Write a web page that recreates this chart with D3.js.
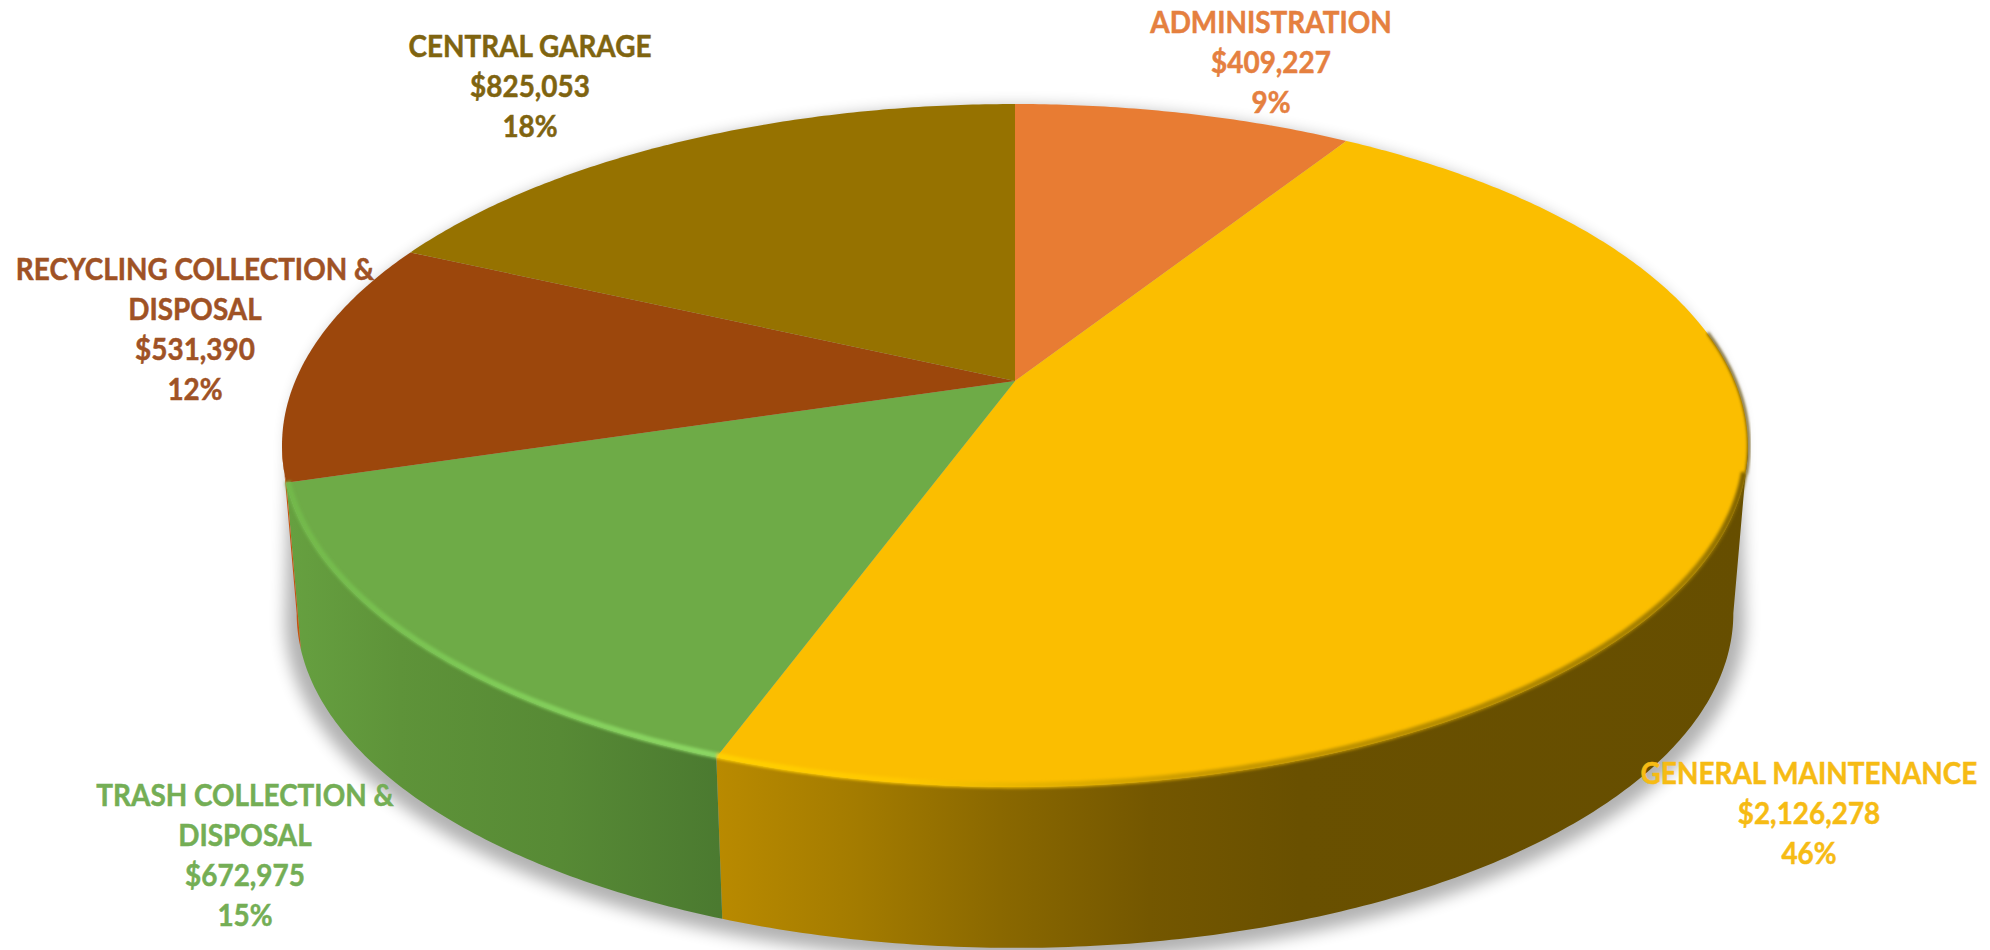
<!DOCTYPE html>
<html>
<head>
<meta charset="utf-8">
<script src="https://cdn.jsdelivr.net/npm/d3@7"></script>
<style>
  html, body { margin: 0; background: #fff; }
  svg { display: block; }
</style>
</head>
<body>
<svg id="chart" width="1990" height="950"></svg>
<script>
// chart data
const categories = ["ADMINISTRATION", "GENERAL MAINTENANCE", "TRASH COLLECTION & DISPOSAL", "RECYCLING COLLECTION & DISPOSAL", "CENTRAL GARAGE"];
const amounts = [409227, 2126278, 672975, 531390, 825053];
const percents = ["9%", "46%", "15%", "12%", "18%"];
const labelLines = [["ADMINISTRATION"], ["GENERAL MAINTENANCE"], ["TRASH COLLECTION &", "DISPOSAL"], ["RECYCLING COLLECTION &", "DISPOSAL"], ["CENTRAL GARAGE"]];
const topColors = ["#e87c33", "#fbbe00", "#6eab47", "#9c470c", "#967200"];
const textColors = ["#e5803f", "#f6bb14", "#74ae55", "#9f5225", "#7f6410"];
const labelX = [1271, 1809, 245, 195, 530];
const labelY = [33, 784, 806, 280, 57];

const svg = d3.select("#chart");
const defs = svg.append("defs");

// the disc is a circle seen in perspective, so the apex sits above the ellipse centre
const apex = { x: 1015, y: 381 };
const persp = -0.1889, scaleU = 719.8, scaleV = 329.3;
const lowerScale = 0.98, lowerApex = { x: 1015, y: 550 };
// angles where the rim is widest: the wall's silhouette runs straight down from there
const frontStart = Math.acos(persp), frontEnd = 2 * Math.PI - frontStart;

function project(theta, center, k) {
  const u = Math.sin(theta), v = -Math.cos(theta);
  const w = 1 + persp * v;
  return [center.x + k * scaleU * u / w, center.y + k * scaleV * v / w];
}

const arcs = d3.pie().sort(null).startAngle(0).endAngle(2 * Math.PI)(amounts);
const line = d3.line();

function samples(a0, a1) {
  const n = Math.max(2, Math.ceil((a1 - a0) / 0.01));
  return d3.range(n + 1).map(i => a0 + (a1 - a0) * i / n);
}

function addGradient(id, stops) {
  const g = defs.append("linearGradient").attr("id", id)
    .attr("gradientUnits", "userSpaceOnUse")
    .attr("x1", 280).attr("x2", 1750).attr("y1", 0).attr("y2", 0);
  stops.forEach(s => g.append("stop").attr("offset", (s[0] - 280) / 1470).attr("stop-color", s[1]));
}

addGradient("wall-general", [[718, "#b98a00"], [860, "#a37b00"], [1000, "#8a6800"], [1150, "#745700"], [1300, "#695000"], [1750, "#664e00"]]);
addGradient("wall-trash", [[290, "#66a040"], [400, "#5e9339"], [560, "#578a35"], [720, "#4b7a30"]]);
addGradient("wall-recycling", [[280, "#c65510"], [420, "#b34d0e"]]);
addGradient("rim-general", [[718, "#ffd000"], [900, "#ffc800"], [1200, "#c99a00"], [1700, "#a07c00"], [1750, "#7a5e00"]]);
addGradient("rim-trash", [[285, "#72b84a"], [500, "#80cc58"], [720, "#8cd864"]]);

defs.append("filter").attr("id", "soft").attr("x", "-5%").attr("y", "-5%").attr("width", "110%").attr("height", "110%")
  .append("feGaussianBlur").attr("stdDeviation", 8);
defs.append("filter").attr("id", "rim-blur").attr("x", "-5%").attr("y", "-5%").attr("width", "110%").attr("height", "110%")
  .append("feGaussianBlur").attr("stdDeviation", 1.8);

function wallPoints(a0, a1) {
  const s = samples(a0, a1);
  const upper = s.map(a => project(a, apex, 1));
  const lower = s.slice().reverse().map(a => project(a, lowerApex, lowerScale));
  return upper.concat(lower);
}

// soft shadow under the disc, following the wall's silhouette
const shadowCenter = { x: lowerApex.x, y: lowerApex.y + 7 };
const shadowRing = samples(frontStart, frontEnd).map(a => project(a, shadowCenter, lowerScale + 0.016));
const shadowBack = samples(frontEnd, frontStart + 2 * Math.PI).map(a => project(a, apex, 0.99));
svg.append("path")
  .attr("d", line(shadowRing.concat(shadowBack)) + "Z")
  .attr("fill", "#000").attr("opacity", 0.3).attr("filter", "url(#soft)");

// side walls, front part of the rim only
const wallFill = { 1: "url(#wall-general)", 2: "url(#wall-trash)", 3: "url(#wall-recycling)" };
svg.append("g").selectAll("path")
  .data(arcs.filter(d => wallFill[d.index]))
  .join("path")
  .attr("d", d => line(wallPoints(Math.max(d.startAngle, frontStart), Math.min(d.endAngle, frontEnd))) + "Z")
  .attr("fill", d => wallFill[d.index]);

// top face
svg.append("g").selectAll("path")
  .data(arcs)
  .join("path")
  .attr("d", d => line([[apex.x, apex.y]].concat(samples(d.startAngle, d.endAngle).map(a => project(a, apex, 1)))) + "Z")
  .attr("fill", d => topColors[d.index]);

// dark sliver on the far right edge of the top face
svg.append("path")
  .attr("d", line(samples(1.42, frontStart + 0.08).map(a => project(a, apex, 1.001))))
  .attr("fill", "none").attr("stroke", "#5e4800").attr("stroke-width", 2.5).attr("filter", "url(#rim-blur)");

// bevel along the front edge of the top face
const rimStroke = { 1: "url(#rim-general)", 2: "url(#rim-trash)" };
svg.append("g").attr("filter", "url(#rim-blur)").selectAll("path")
  .data(arcs.filter(d => rimStroke[d.index]))
  .join("path")
  .attr("d", d => {
    const a0 = Math.max(d.startAngle, frontStart + 0.08);
    return line(samples(a0, Math.min(d.endAngle, frontEnd)).map(a => project(a, { x: apex.x, y: apex.y - 1 }, 0.998)));
  })
  .attr("fill", "none")
  .attr("stroke", d => rimStroke[d.index])
  .attr("stroke-width", 6);

// data labels
const usd = d3.format("$,");
const labels = svg.append("g")
  .attr("font-family", "Lato, 'Liberation Sans', sans-serif")
  .attr("font-weight", "bold")
  .attr("font-size", 30)
  .attr("text-anchor", "middle");

categories.forEach((name, i) => {
  const lines = labelLines[i].concat([usd(amounts[i]), percents[i]]);
  labels.append("g")
    .attr("fill", textColors[i])
    .attr("stroke", textColors[i])
    .attr("stroke-width", 0.5)
    .selectAll("text")
    .data(lines)
    .join("text")
    .attr("x", labelX[i])
    .attr("y", (t, j) => labelY[i] + j * 40)
    .text(t => t)
    // Calibri is narrower than Lato
    .each(function () {
      d3.select(this).attr("lengthAdjust", "spacingAndGlyphs").attr("textLength", this.getComputedTextLength() * 0.93);
    });
});
</script>
</body>
</html>
